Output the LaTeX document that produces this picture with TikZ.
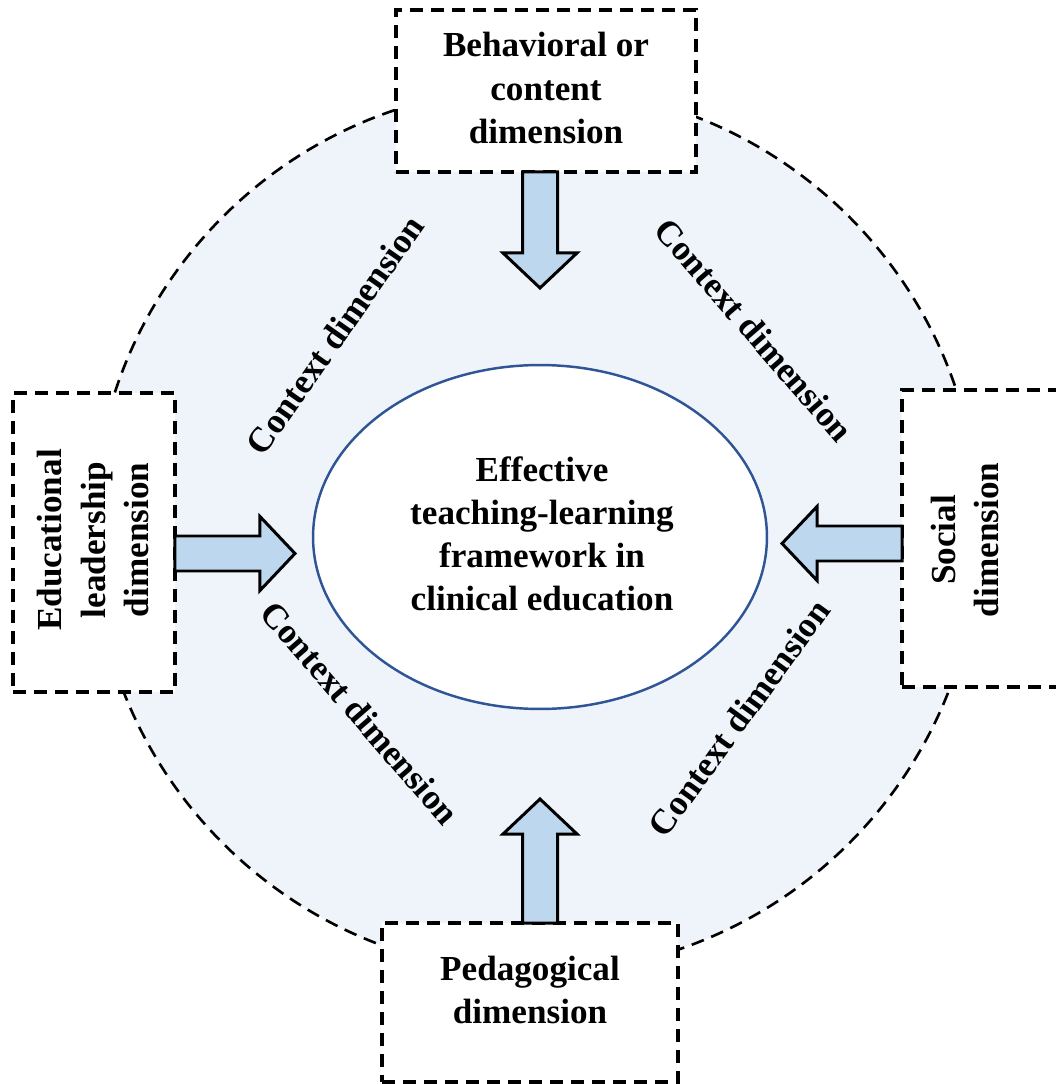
\documentclass[tikz,border=0pt]{standalone}
\usepackage{fontspec}
\setmainfont{Liberation Serif}
\usetikzlibrary{shapes.geometric,calc}

\definecolor{ringfill}{RGB}{239,244,251}
\definecolor{arrowfill}{RGB}{189,215,238}
\definecolor{ovalline}{RGB}{47,85,151}

\tikzset{
  dimbox/.style={draw=black, fill=white, line width=2.1pt, dash pattern=on 0.26cm off 0.16cm, rectangle, outer sep=0pt},
  dimtext/.style={font=\bfseries\fontsize{20}{24.5}\selectfont, align=center},
  ctxlabel/.style={font=\bfseries\fontsize{20}{24.5}\selectfont},
  arrowbody/.style={fill=arrowfill, draw=black, line width=1.7pt, line join=miter}
}

% block arrow: start, angle, length
\newcommand{\blockarrow}[3]{%
  \begin{scope}[shift={(#1)}, rotate=#2]
    \filldraw[arrowbody] (0,-17.5) -- ({#3-35},-17.5) -- ({#3-35},-37) -- (#3,0)
      -- ({#3-35},37) -- ({#3-35},17.5) -- (0,17.5) -- cycle;
  \end{scope}}

\begin{document}
\begin{tikzpicture}[x=0.02cm, y=-0.02cm]
\useasboundingbox (0,0) rectangle (1055,1084);

% outer ring
\node[circle, draw=black, fill=ringfill, line width=1.5pt, dash pattern=on 0.26cm off 0.16cm,
  minimum size=17.72cm, inner sep=0pt] (ring) at (536,530) {};

% centre
\node[ellipse, draw=ovalline, fill=white, line width=1.4pt, minimum width=9.08cm,
  minimum height=6.88cm, inner sep=0pt] (core) at (540,537) {};
\node[dimtext] (coretext) at (542,534) {Effective\\teaching-learning\\framework in\\clinical education};

% context labels
\node[ctxlabel, rotate=55] (ctxnw) at (335,335) {Context dimension};
\node[ctxlabel, rotate=-49] (ctxne) at (754,330) {Context dimension};
\node[ctxlabel, rotate=-49] (ctxsw) at (360,713) {Context dimension};
\node[ctxlabel, rotate=54] (ctxse) at (739,718) {Context dimension};

% dimension boxes
\node[dimbox, minimum width=6cm, minimum height=3.24cm] (behav) at (546,91) {};
\node[dimtext] (behavtext) at (546,88) {Behavioral or\\content\\dimension};

\node[dimbox, minimum width=3.24cm, minimum height=5.98cm] (lead) at (94,542.5) {};
\node[dimtext, rotate=90] (leadtext) at (93,540) {Educational\\leadership\\dimension};

\node[dimbox, minimum width=3.24cm, minimum height=5.94cm] (social) at (983,538.5) {};
\node[dimtext, rotate=90] (socialtext) at (965,540) {Social\\dimension};

\node[dimbox, minimum width=5.92cm, minimum height=3.18cm] (ped) at (530,1002.5) {};
\node[dimtext] (pedtext) at (530,990) {Pedagogical\\dimension};

% arrows
\blockarrow{$(behav.south)+(-6,0)$}{-90}{116}
\blockarrow{$(lead.east)+(0,11)$}{0}{120}
\blockarrow{$(social.west)+(0,5)$}{180}{120}
\blockarrow{$(ped.north)+(10,0)$}{90}{124}

\end{tikzpicture}
\end{document}
